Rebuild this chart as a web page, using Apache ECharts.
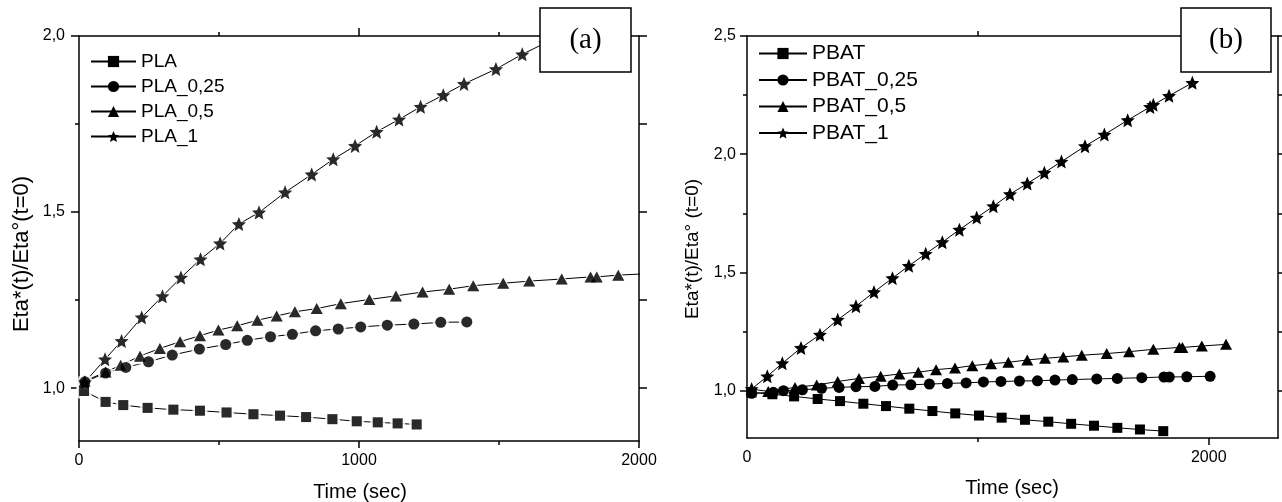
<!DOCTYPE html>
<html><head><meta charset="utf-8">
<script src="https://cdn.jsdelivr.net/npm/echarts@6/dist/echarts.min.js"></script>
<style>html,body{margin:0;padding:0;background:#fff}#c{width:1282px;height:502px}</style>
</head><body><div id="c"></div>
<script>
// ---------- Panel (a) data ----------
const plaT = [18, 95, 158, 245, 337, 432, 527, 623, 718, 811, 905, 992, 1067, 1138, 1206];
const plaV = [0.992, 0.961, 0.952, 0.944, 0.939, 0.936, 0.931, 0.926, 0.922, 0.918, 0.912, 0.906, 0.903, 0.900, 0.897];
const pla025T = [21, 95, 167, 248, 333, 430, 524, 601, 684, 762, 845, 926, 1006, 1101, 1196, 1292, 1385];
const pla025V = [1.018, 1.043, 1.059, 1.075, 1.094, 1.111, 1.124, 1.136, 1.146, 1.153, 1.163, 1.168, 1.174, 1.179, 1.182, 1.187, 1.188];
const pla05T = [20, 95, 149, 218, 289, 361, 432, 498, 565, 637, 706, 771, 849, 935, 1037, 1132, 1227, 1322, 1408, 1515, 1608, 1724, 1827, 1849, 1926, 2080];
const pla05V = [1.02, 1.046, 1.065, 1.091, 1.113, 1.132, 1.149, 1.165, 1.177, 1.193, 1.205, 1.217, 1.226, 1.24, 1.252, 1.262, 1.273, 1.281, 1.291, 1.298, 1.304, 1.310, 1.316, 1.316, 1.321, 1.327];
const pla1T = [21, 93, 152, 224, 298, 364, 434, 504, 571, 643, 736, 831, 908, 986, 1063, 1143, 1220, 1301, 1375, 1489, 1583, 1665, 1750];
const pla1V = [1.017, 1.082, 1.134, 1.201, 1.261, 1.314, 1.366, 1.411, 1.466, 1.499, 1.556, 1.607, 1.650, 1.688, 1.728, 1.763, 1.799, 1.832, 1.864, 1.906, 1.948, 1.98, 2.02];
const namesA = ['PLA', 'PLA_0,25', 'PLA_0,5', 'PLA_1'];

// ---------- Panel (b) data ----------
const pbatT = [20, 110, 204, 306, 403, 504, 602, 703, 803, 902, 1005, 1103, 1204, 1305, 1404, 1503, 1604, 1702, 1803];
const pbatV = [0.993, 0.985, 0.976, 0.965, 0.956, 0.945, 0.935, 0.924, 0.914, 0.904, 0.895, 0.886, 0.877, 0.869, 0.860, 0.852, 0.843, 0.836, 0.829];
const pbat025T = [20, 114, 158, 240, 323, 399, 472, 554, 631, 710, 790, 868, 949, 1024, 1100, 1180, 1258, 1334, 1409, 1515, 1604, 1710, 1806, 1829, 1905, 2006];
const pbat025V = [0.989, 0.993, 1.000, 1.004, 1.010, 1.014, 1.017, 1.018, 1.024, 1.025, 1.028, 1.031, 1.033, 1.037, 1.039, 1.041, 1.042, 1.045, 1.047, 1.050, 1.052, 1.055, 1.058, 1.058, 1.059, 1.061];
const pbat05T = [20, 92, 208, 302, 393, 485, 579, 660, 742, 819, 901, 976, 1057, 1132, 1214, 1291, 1370, 1450, 1558, 1655, 1760, 1873, 1886, 1970, 2075];
const pbat05V = [1.007, 0.997, 1.014, 1.024, 1.039, 1.052, 1.061, 1.071, 1.078, 1.089, 1.096, 1.106, 1.114, 1.120, 1.130, 1.137, 1.143, 1.150, 1.157, 1.165, 1.175, 1.183, 1.183, 1.189, 1.196];
const pbat1T = [20, 88, 153, 234, 316, 393, 472, 550, 630, 701, 774, 846, 920, 995, 1067, 1139, 1214, 1288, 1362, 1464, 1548, 1649, 1746, 1760, 1828, 1929];
const pbat1V = [1.007, 1.061, 1.116, 1.181, 1.237, 1.300, 1.357, 1.417, 1.476, 1.528, 1.579, 1.628, 1.681, 1.732, 1.780, 1.831, 1.876, 1.922, 1.969, 2.034, 2.083, 2.144, 2.200, 2.209, 2.247, 2.302];
const namesB = ['PBAT', 'PBAT_0,25', 'PBAT_0,5', 'PBAT_1'];

// ---------- Axis ticks / labels ----------
const aXLabels = [0, 1000, 2000], aXMinor = [500, 1500];
const aYLabels = [1.0, 1.5, 2.0], aYMinor = [1.25, 1.75];
const bXLabels = [0, 2000], bXMinor = [1000];
const bYLabels = [1.0, 1.5, 2.0, 2.5], bYMinor = [1.25, 1.75, 2.25];
const aRange = { xmin: 0, xmax: 2000, ymin: 0.85, ymax: 2.0 };
const bRange = { xmin: 0, xmax: 2300, ymin: 0.8, ymax: 2.5 };

const FONT = 'Liberation Sans';
const STAR = 'path://M50 0 L63.23 31.8 L97.55 34.55 L71.4 56.95 L79.39 90.45 L50 72.5 L20.61 90.45 L28.6 56.95 L2.45 34.55 L36.77 31.8 Z';
const syms = ['rect', 'circle', 'triangle', STAR];
const zip = (t, v) => t.map((x, i) => [x, v[i]]);
const fmtY = v => v.toFixed(1).replace('.', ',');
const fmtX = v => String(v);

function axis(dim, grid, pos, r, ticks, len, line, label) {
  const min = dim === 'x' ? r.xmin : r.ymin, max = dim === 'x' ? r.xmax : r.ymax;
  return {
    type: 'value', gridIndex: grid, position: pos, min: min, max: max,
    axisLine: { show: line, onZero: false, lineStyle: { color: '#000', width: 1.5 } },
    axisTick: { show: true, inside: false, length: len, customValues: ticks, lineStyle: { color: '#000', width: 1.5 } },
    axisLabel: label ? Object.assign({ show: true, color: '#000', fontFamily: FONT, fontSize: 16 }, label) : { show: false },
    splitLine: { show: false }, axisPointer: { show: false }
  };
}

const xAxes = [
  axis('x', 0, 'bottom', aRange, aXLabels, 7, true, { customValues: aXLabels, margin: 12, formatter: fmtX }),
  axis('x', 0, 'bottom', aRange, aXMinor, 4, false),
  axis('x', 0, 'top', aRange, [1000], 8, true),
  axis('x', 0, 'top', aRange, aXMinor, 4, false),
  axis('x', 1, 'bottom', bRange, bXLabels.slice(1), 7, true, { customValues: bXLabels, margin: 12, formatter: fmtX }),
  axis('x', 1, 'bottom', bRange, bXMinor, 4, false),
  axis('x', 1, 'top', bRange, bXMinor, 5, true),
];
const yAxes = [
  axis('y', 0, 'left', aRange, aYLabels, 8, true, { customValues: aYLabels, margin: 14, formatter: fmtY }),
  axis('y', 0, 'left', aRange, aYMinor, 4, false),
  axis('y', 0, 'right', aRange, aYLabels.concat(aYMinor), 8, true),
  axis('y', 1, 'left', bRange, bYLabels, 7, true, { customValues: bYLabels, margin: 11, formatter: fmtY }),
  axis('y', 1, 'left', bRange, bYMinor, 4, false),
  axis('y', 1, 'right', bRange, bYLabels.concat(bYMinor), 4, true),
];

const sizesA = [[10, 10], 11, [12, 11], [14, 14]];
const haloA = [[15, 15], 16, [17, 16], [18, 18]];
const sizesB = [[10, 10], 11, [12, 11], [14, 14]];
const dataA = [zip(plaT, plaV), zip(pla025T, pla025V), zip(pla05T, pla05V), zip(pla1T, pla1V)];
const dataB = [zip(pbatT, pbatV), zip(pbat025T, pbat025V), zip(pbat05T, pbat05V), zip(pbat1T, pbat1V)];

const series = [];
// panel (a): lines, then white halos (gaps round symbols), then black symbols
namesA.forEach((n, i) => series.push({
  name: n, type: 'line', xAxisIndex: 0, yAxisIndex: 0, data: dataA[i],
  symbol: syms[i], symbolSize: sizesA[i], showAllSymbol: true,
  lineStyle: { color: '#000', width: 1 }, itemStyle: { color: '#000' },
  emphasis: { disabled: true }, z: 2
}));
namesA.forEach((n, i) => series.push({
  type: 'scatter', xAxisIndex: 0, yAxisIndex: 0, data: dataA[i], silent: true,
  symbol: syms[i], symbolSize: haloA[i], itemStyle: { color: '#fff' }, z: 3, emphasis: { disabled: true }
}));
namesA.forEach((n, i) => series.push({
  type: 'scatter', xAxisIndex: 0, yAxisIndex: 0, data: dataA[i], silent: true,
  symbol: syms[i], symbolSize: sizesA[i], itemStyle: { color: '#000' }, z: 4, emphasis: { disabled: true }
}));
namesB.forEach((n, i) => series.push({
  name: n, type: 'line', xAxisIndex: 4, yAxisIndex: 3, data: dataB[i],
  symbol: syms[i], symbolSize: sizesB[i], showAllSymbol: true,
  lineStyle: { color: '#000', width: 1 }, itemStyle: { color: '#000' },
  emphasis: { disabled: true }, z: 2 + i
}));

const txt = (x, y, s, size, rot, fam) => ({
  type: 'text', x: x, y: y, rotation: rot || 0, z: 101,
  style: { text: s, font: size + 'px "' + (fam || FONT) + '"', fill: '#000', align: 'center', verticalAlign: 'middle' }
});

const option = {
  animation: false,
  backgroundColor: '#fff',
  grid: [
    { left: 79, top: 36, width: 560, height: 405 },
    { left: 747, top: 36, width: 531, height: 402 }
  ],
  xAxis: xAxes,
  yAxis: yAxes,
  legend: [
    { orient: 'vertical', left: 85, top: 47, itemWidth: 45, itemHeight: 14, itemGap: 6, data: namesA,
      selectedMode: false, textStyle: { fontFamily: FONT, fontSize: 19, color: '#000' } },
    { orient: 'vertical', left: 753, top: 38, itemWidth: 48, itemHeight: 14, itemGap: 5.5, data: namesB,
      selectedMode: false, textStyle: { fontFamily: FONT, fontSize: 21, color: '#000' } }
  ],
  graphic: [
    { type: 'rect', x: 540, y: 8, z: 100, shape: { width: 91, height: 64 }, style: { fill: '#fff', stroke: '#000', lineWidth: 1.5 } },
    txt(585.5, 40, '(a)', 29, 0, 'Liberation Serif'),
    { type: 'rect', x: 1181, y: 8, z: 100, shape: { width: 90, height: 64 }, style: { fill: '#fff', stroke: '#000', lineWidth: 1.5 } },
    txt(1226, 40, '(b)', 29, 0, 'Liberation Serif'),
    txt(22, 254, 'Eta*(t)/Eta°(t=0)', 22, Math.PI / 2),
    txt(693, 249, 'Eta*(t)/Eta° (t=0)', 19, Math.PI / 2),
    txt(360, 492, 'Time (sec)', 20),
    txt(1012, 488, 'Time (sec)', 20)
  ],
  series: series
};
const chart = echarts.init(document.getElementById('c'), null, { renderer: 'canvas' });
chart.setOption(option);
</script>
</body></html>
